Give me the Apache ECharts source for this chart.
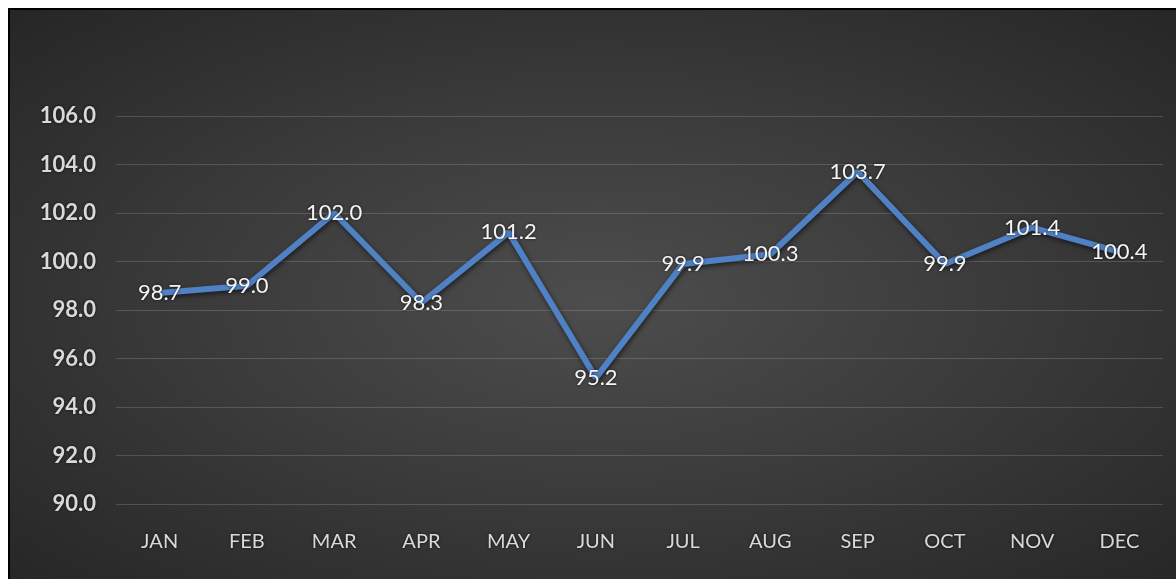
<!DOCTYPE html>
<html>
<head>
<meta charset="utf-8">
<script src="https://cdn.jsdelivr.net/npm/echarts@6/dist/echarts.min.js"></script>
<style>
  html, body { margin: 0; padding: 0; background: #ffffff; overflow: hidden; }
  #frame {
    position: absolute; left: 8px; top: 8px;
    width: 1180px; height: 580px;
    border-left: 2px solid #000; border-top: 2px solid #000;
    background: radial-gradient(ellipse at 50% 50%, #4d4d4d 0%, #3c3c3c 45%, #262626 100%);
  }
  #chart { position: absolute; left: 0; top: 0; width: 1166px; height: 569px; }
</style>
</head>
<body>
<div id="frame"><div id="chart"></div></div>
<script>
// Monthly index values
const months = ['JAN', 'FEB', 'MAR', 'APR', 'MAY', 'JUN', 'JUL', 'AUG', 'SEP', 'OCT', 'NOV', 'DEC'];
const values = [98.7, 99.0, 102.0, 98.3, 101.2, 95.2, 99.9, 100.3, 103.7, 99.9, 101.4, 100.4];
const yMin = 90, yMax = 106, yStep = 2;

const chart = echarts.init(document.getElementById('chart'), null, { renderer: 'canvas' });
const font = 'Lato, "Liberation Sans", sans-serif';
const textShadow = { textShadowColor: 'rgba(0,0,0,0.7)', textShadowBlur: 3 };

chart.setOption({
  animation: false,
  backgroundColor: 'transparent',
  grid: { left: 106, right: 13, top: 106, bottom: 75, containLabel: false },
  xAxis: {
    type: 'category',
    data: months,
    boundaryGap: true,
    axisLine: { show: false },
    axisTick: { show: false },
    axisLabel: Object.assign({ color: '#d9d9d9', fontFamily: font, fontSize: 20, margin: 28 }, textShadow)
  },
  yAxis: {
    type: 'value',
    min: yMin, max: yMax, interval: yStep,
    axisLine: { show: false },
    axisTick: { show: false },
    splitLine: { lineStyle: { color: 'rgba(255,255,255,0.16)', width: 1 } },
    axisLabel: Object.assign({
      color: '#d9d9d9', fontFamily: font, fontSize: 22, fontWeight: 'bold', margin: 20,
      formatter: v => v.toFixed(1)
    }, textShadow)
  },
  series: [{
    type: 'line',
    data: values,
    symbol: 'circle',
    symbolSize: 2,
    showSymbol: true,
    itemStyle: { color: 'rgba(0,0,0,0)' },
    lineStyle: {
      color: '#4f81c4', width: 6,
      shadowColor: 'rgba(0,0,0,0.6)', shadowBlur: 5, shadowOffsetX: 1, shadowOffsetY: 2
    },
    label: Object.assign({
      show: true, position: 'inside',
      color: '#f4f4f4', fontFamily: font, fontSize: 22,
      formatter: p => p.value.toFixed(1)
    }, textShadow)
  }]
});
</script>
</body>
</html>
